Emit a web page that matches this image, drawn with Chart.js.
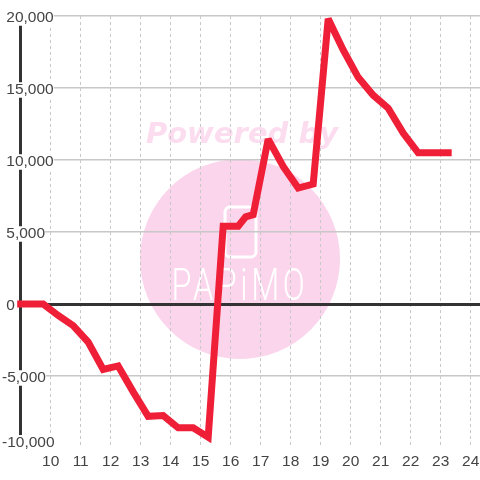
<!DOCTYPE html>
<html>
<head>
<meta charset="utf-8">
<style>
    html, body { margin: 0; padding: 0; background: #fff; }
    canvas { display: block; }
</style>
<script src="https://cdn.jsdelivr.net/npm/chart.js@4/dist/chart.umd.min.js"></script>
</head>
<body>
<canvas id="profit-chart" width="480" height="480"></canvas>
<script>
// Hours of the day
const hours = [9, 9.25, 9.75, 10.25, 10.75, 11.25, 11.75, 12.25, 12.75, 13.25, 13.75, 14.25, 14.75, 15.25,
    15.75, 16.25, 16.5, 16.75, 17.25, 17.75, 18.25, 18.75, 19.25, 19.75, 20.25, 20.75, 21.25, 21.75, 22.25, 22.75, 23.25];
// Balance at each hour
const balance = [0, 0, 0, -800, -1500, -2650, -4550, -4300, -6100, -7800, -7750, -8600, -8600, -9250,
    5400, 5400, 6050, 6200, 11450, 9550, 8050, 8330, 19800, 17640, 15740, 14500, 13600, 11870, 10500, 10500, 10500];

const lineColor = '#ef1f38';
const textColor = '#444';
const gridColor = '#c8c8c8';
const axisColor = '#333';

// The -10,000 label sits a little above its grid line, so it gets a tick of its own
const bottomLabelTick = -9500;

const watermarkTop = 'Powered by';
const watermarkBottom = 'PAPiMO';

// Logo behind the chart
const watermark = {
    id: 'watermark',
    beforeDraw(chart) {
        const ctx = chart.ctx;
        ctx.save();
        ctx.fillStyle = '#fff';
        ctx.fillRect(0, 0, chart.width, chart.height);

        ctx.fillStyle = '#fbd5ec';
        ctx.beginPath();
        ctx.arc(240, 259, 100, 0, Math.PI * 2);
        ctx.fill();

        ctx.fillStyle = '#fcdcef';
        ctx.font = 'italic bold 29px "DejaVu Sans"';
        ctx.textAlign = 'center';
        ctx.textBaseline = 'middle';
        ctx.fillText(watermarkTop, 242, 135);

        ctx.strokeStyle = '#fff';
        ctx.lineWidth = 3;
        ctx.beginPath();
        ctx.roundRect(225, 207, 31, 50, 5);
        ctx.stroke();

        ctx.fillStyle = '#fff';
        ctx.translate(240, 289);
        ctx.scale(0.72, 1);
        ctx.font = '300 45px Roboto';
        ctx.letterSpacing = '5px';
        ctx.fillText(watermarkBottom, 0, 0);
        ctx.restore();
    },
    // Flat tips on the sharp peaks of the line
    beforeDatasetDraw(chart) {
        chart.ctx.save();
        chart.ctx.miterLimit = 2;
    },
    afterDatasetDraw(chart) {
        chart.ctx.restore();
    }
};

function formatBalance(value) {
    if (value === bottomLabelTick) return '-10,000';
    if (value === -10000 || value % 5000 !== 0) return null;
    const text = value.toLocaleString('en-US');
    return value < 0 ? text : ' ' + text;
}

function hasLabel(value) {
    return value === bottomLabelTick || (value !== -10000 && value % 5000 === 0);
}

new Chart(document.getElementById('profit-chart').getContext('2d'), {
    type: 'line',
    data: {
        datasets: [{
            data: hours.map((hour, i) => ({ x: hour, y: balance[i] })),
            borderColor: lineColor,
            borderWidth: 7,
            borderCapStyle: 'square',
            borderJoinStyle: 'miter',
            pointRadius: 0,
            tension: 0,
            fill: false,
            clip: false
        }]
    },
    options: {
        responsive: false,
        animation: false,
        layout: { padding: { left: 2, top: 16, right: 0, bottom: 0 } },
        plugins: { legend: { display: false }, tooltip: { enabled: false } },
        scales: {
            x: {
                type: 'linear',
                min: 9,
                max: 24.31,
                afterFit(scale) {
                    scale.height = 32;
                    scale.paddingLeft = 0;
                    scale.paddingRight = 0;
                },
                grid: {
                    color: gridColor,
                    lineWidth: 1,
                    drawTicks: false
                },
                border: { display: false, dash: [3, 3] },
                ticks: {
                    stepSize: 1,
                    includeBounds: false,
                    autoSkip: false,
                    maxRotation: 0,
                    padding: 6,
                    color: textColor,
                    font: { family: '"Liberation Sans"', size: 15.5, lineHeight: 1 },
                    callback: value => (value === 9 ? null : String(value))
                }
            },
            y: {
                min: -10000,
                max: 20000,
                afterBuildTicks(scale) {
                    scale.ticks.push({ value: bottomLabelTick });
                    scale.ticks.sort((a, b) => a.value - b.value);
                },
                afterFit(scale) {
                    scale.width = 18.67;
                    scale.paddingTop = 0;
                    scale.paddingBottom = 0;
                },
                grid: {
                    color: ctx => {
                        if (ctx.tick.value === bottomLabelTick) return 'rgba(0,0,0,0)';
                        return ctx.tick.value === 0 ? axisColor : gridColor;
                    },
                    lineWidth: ctx => (ctx.tick.value === 0 ? 3 : 1.5),
                    drawTicks: false
                },
                border: { color: axisColor, width: 3 },
                ticks: {
                    stepSize: 2500,
                    autoSkip: false,
                    // mirror: подписи не обрезаются по ширине оси
                    mirror: true,
                    crossAlign: 'near',
                    padding: -18.67,
                    labelOffset: 2,
                    color: textColor,
                    font: { family: '"Liberation Sans"', size: 15.5, lineHeight: 1 },
                    callback: formatBalance,
                    showLabelBackdrop: ctx => hasLabel(ctx.tick.value),
                    backdropColor: '#fff',
                    backdropPadding: ctx => (ctx.tick.value === bottomLabelTick
                        ? { top: -1.4, bottom: -0.8, left: 1, right: 1.5 }
                        : { top: -0.5, bottom: -1.5, left: 1, right: 1 })
                }
            }
        }
    },
    plugins: [watermark]
});
</script>
</body>
</html>
